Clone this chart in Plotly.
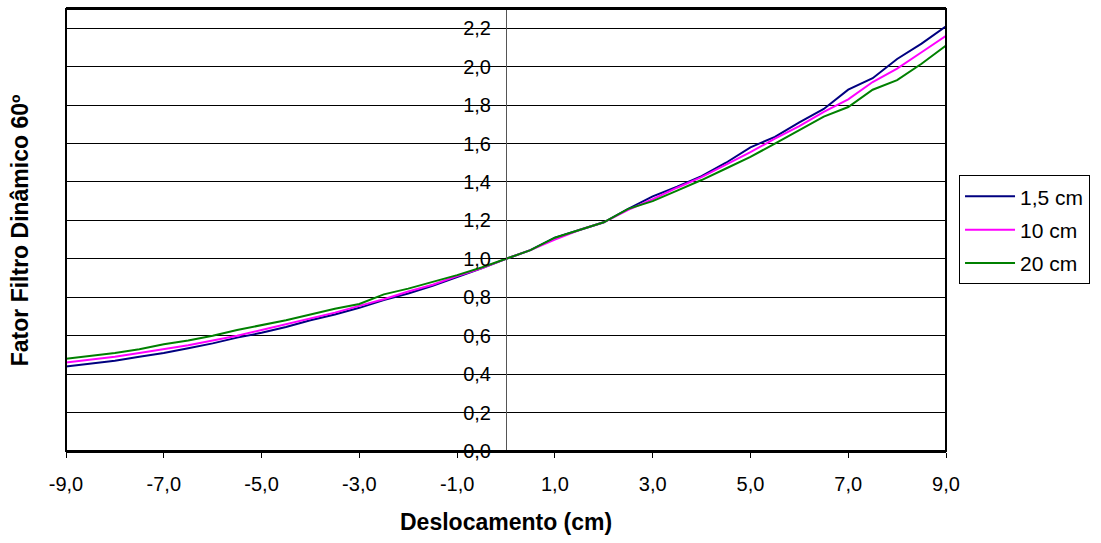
import plotly.graph_objects as go

x_cm = [-9.0, -8.5, -8.0, -7.5, -7.0, -6.5, -6.0, -5.5, -5.0, -4.5, -4.0, -3.5, -3.0, -2.5,
        -2.0, -1.5, -1.0, -0.5, 0.0, 0.5, 1.0, 1.5, 2.0, 2.5, 3.0, 3.5, 4.0, 4.5, 5.0, 5.5,
        6.0, 6.5, 7.0, 7.5, 8.0, 8.5, 9.0]

s_1_5cm = [0.44, 0.455, 0.47, 0.49, 0.51, 0.535, 0.56, 0.59, 0.615, 0.645, 0.68, 0.71, 0.745,
           0.785, 0.82, 0.86, 0.905, 0.95, 1.0, 1.045, 1.11, 1.15, 1.19, 1.26, 1.325, 1.375,
           1.43, 1.50, 1.58, 1.635, 1.71, 1.78, 1.88, 1.94, 2.04, 2.12, 2.21]

s_10cm = [0.46, 0.475, 0.49, 0.51, 0.53, 0.55, 0.575, 0.60, 0.63, 0.66, 0.69, 0.72, 0.755,
          0.79, 0.83, 0.865, 0.91, 0.95, 1.0, 1.045, 1.10, 1.15, 1.19, 1.255, 1.31, 1.37,
          1.425, 1.49, 1.555, 1.625, 1.69, 1.765, 1.83, 1.92, 1.99, 2.075, 2.16]

s_20cm = [0.48, 0.495, 0.51, 0.53, 0.555, 0.575, 0.60, 0.63, 0.655, 0.68, 0.71, 0.74, 0.765,
          0.815, 0.845, 0.88, 0.915, 0.955, 1.0, 1.045, 1.11, 1.15, 1.19, 1.26, 1.30, 1.355,
          1.41, 1.47, 1.53, 1.60, 1.67, 1.74, 1.79, 1.88, 1.93, 2.015, 2.11]

series_names = ["1,5 cm", "10 cm", "20 cm"]
series_colors = ["#000080", "#FF00FF", "#008000"]
series_values = [s_1_5cm, s_10cm, s_20cm]

x_ticks = [-9, -7, -5, -3, -1, 1, 3, 5, 7, 9]
x_ticktext = ["-9,0", "-7,0", "-5,0", "-3,0", "-1,0", "1,0", "3,0", "5,0", "7,0", "9,0"]
y_ticks = [0.0, 0.2, 0.4, 0.6, 0.8, 1.0, 1.2, 1.4, 1.6, 1.8, 2.0, 2.2]
y_ticktext = ["0,0", "0,2", "0,4", "0,6", "0,8", "1,0", "1,2", "1,4", "1,6", "1,8", "2,0", "2,2"]

FONT = "Liberation Sans, Arial, sans-serif"

fig = go.Figure()
for name, color, vals in zip(series_names, series_colors, series_values):
    fig.add_trace(go.Scatter(x=x_cm, y=vals, mode="lines", name=name, legendgroup=name,
                             line=dict(color=color, width=2)))

fig.update_layout(
    width=1101, height=543,
    margin=dict(l=66, r=155, t=7, b=92),
    plot_bgcolor="white", paper_bgcolor="white",
    font=dict(family=FONT, size=20, color="black"),
    showlegend=True,
    legend=dict(x=1.0148, y=0.624, xanchor="left", yanchor="top",
                bordercolor="black", borderwidth=1, bgcolor="white",
                font=dict(family=FONT, size=21), traceorder="grouped",
                tracegroupgap=3, itemwidth=50),
    xaxis=dict(range=[-9, 9], tickvals=x_ticks, ticktext=x_ticktext, ticks="outside",
               ticklen=5, tickcolor="black", showgrid=False, zeroline=False,
               showline=True, linecolor="black", linewidth=2, mirror=True,
               ticklabelstandoff=9,
               tickfont=dict(family=FONT, size=20), domain=[0, 1]),
    yaxis=dict(range=[0, 2.3], tickvals=y_ticks, ticktext=y_ticktext, ticks="outside",
               ticklen=6, tickcolor="black", showgrid=True, gridcolor="black", gridwidth=1,
               zeroline=False, showline=True, linecolor="#555555", linewidth=1,
               ticklabelstandoff=5,
               anchor="free", position=0.5, tickfont=dict(family=FONT, size=20)),
    shapes=[dict(type="rect", xref="paper", yref="paper", x0=0, x1=1, y0=0, y1=1,
                 line=dict(color="black", width=2), layer="above")],
    annotations=[
        dict(text="<b>Deslocamento (cm)</b>", xref="paper", yref="paper", x=0.5, y=-0.16,
             xanchor="center", yanchor="middle", showarrow=False,
             font=dict(family=FONT, size=23)),
        dict(text="<b>Fator Filtro Dinâmico 60º</b>", xref="paper", yref="paper",
             x=-0.052, y=0.5, xanchor="center", yanchor="middle", textangle=-90,
             showarrow=False, font=dict(family=FONT, size=23)),
    ],
)

fig.write_html("out.html", config={"displayModeBar": False},
               post_script="document.body.style.margin='0px';")
